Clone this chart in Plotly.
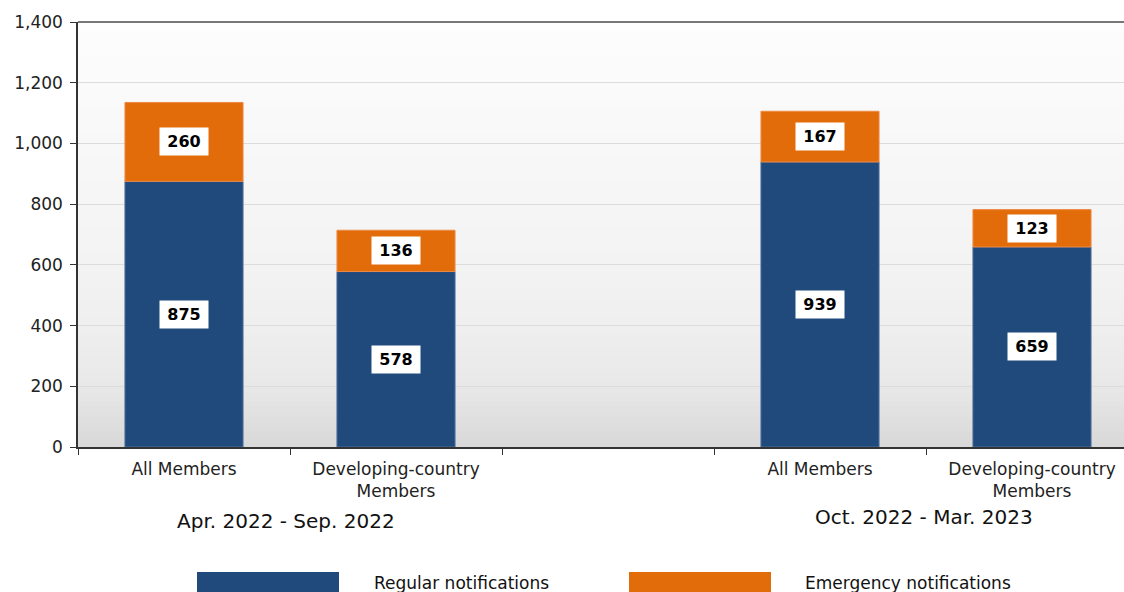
import numpy as np
import plotly.graph_objects as go

# data
categories = ["All Members", "Developing-country<br>Members"]
periods = ["Apr. 2022 - Sep. 2022", "Oct. 2022 - Mar. 2023"]
regular = [875, 578, 939, 659]
emergency = [260, 136, 167, 123]
x_pos = [0.5, 1.5, 3.5, 4.5]          # slot 2 left empty between periods
period_centers = [0.98, 3.99]
y_ticks = [0, 200, 400, 600, 800, 1000, 1200, 1400]

BLUE = "#214a7c"
ORANGE = "#e36c0a"
FONT = "DejaVu Sans"

fig = go.Figure()
fig.add_trace(go.Bar(x=x_pos, y=regular, name="Regular notifications",
                     marker=dict(color=BLUE, line=dict(color="#4d6e9c", width=1)),
                     width=0.557, hoverinfo="y"))
fig.add_trace(go.Bar(x=x_pos, y=emergency, base=regular, name="Emergency notifications",
                     marker=dict(color=ORANGE, line=dict(color="#ec8a45", width=1)),
                     width=0.557, hoverinfo="y"))

# white value boxes in the middle of each segment
annotations = []
for xp, r, e in zip(x_pos, regular, emergency):
    for val, mid in ((r, r / 2), (e, r + e / 2)):
        annotations.append(dict(x=xp, y=mid, xref="x", yref="y", text="<b>%d</b>" % val,
                                showarrow=False, bgcolor="white", borderpad=4,
                                width=40, font=dict(family=FONT, size=16, color="black")))

# period labels under the category labels (pixel rows of the reference)
for xc, lab, yy in zip(period_centers, periods, [521, 517]):
    annotations.append(dict(x=xc, xref="x", y=(447 - yy) / 425, yref="paper",
                            text=lab, showarrow=False, yanchor="middle",
                            font=dict(family=FONT, size=20, color="#111")))

# hand drawn legend with wide swatches
shapes = []
legend_items = [("Regular notifications", BLUE, 197, 372),
                ("Emergency notifications", ORANGE, 629, 803)]
for lab, col, x0, xt in legend_items:
    shapes.append(dict(type="rect", xref="paper", yref="paper",
                       x0=(x0 - 78) / 1046, x1=(x0 + 142 - 78) / 1046,
                       y0=(447 - 595) / 425, y1=(447 - 572) / 425,
                       fillcolor=col, line=dict(width=0), layer="above"))
    annotations.append(dict(x=(xt - 78) / 1046, xref="paper", y=(447 - 583) / 425, yref="paper",
                            text=lab, showarrow=False, xanchor="left", yanchor="middle",
                            font=dict(family=FONT, size=17, color="#111")))

# background gradient: near white at the top, grey towards the axis
stops_f = [0.0, 0.143, 0.286, 0.43, 0.714, 1.0]
stops_c = [216, 232, 239, 243, 248, 253]
n = 85
for i in range(n):
    f0, f1 = i / n, (i + 1) / n
    c = int(round(np.interp((f0 + f1) / 2, stops_f, stops_c)))
    shapes.append(dict(type="rect", xref="x domain", yref="y domain",
                       x0=0, x1=1, y0=f0, y1=f1 + 0.002,
                       fillcolor="rgb(%d,%d,%d)" % (c, c, c), line=dict(width=0), layer="below"))
# top border
shapes.append(dict(type="line", xref="x domain", yref="y domain", x0=0, x1=1, y0=1, y1=1,
                   line=dict(color="#777", width=2), layer="above"))

fig.update_layout(
    width=1124, height=592,
    margin=dict(l=78, r=0, t=22, b=145),
    paper_bgcolor="white", plot_bgcolor="white",
    barmode="overlay", showlegend=False,
    font=dict(family=FONT, size=17, color="#222"),
    annotations=annotations, shapes=shapes,
    xaxis=dict(range=[0, 1046 / 212], tickmode="array", tickvals=x_pos,
               ticktext=categories * 2, ticks="", showgrid=False, zeroline=False,
               showline=True, linecolor="#333", linewidth=1.5, automargin=False,
               ticklabelstandoff=6,
               tickfont=dict(family=FONT, size=17, color="#222"),
               minor=dict(tick0=0, dtick=1, ticks="outside", ticklen=6,
                          tickcolor="#333", showgrid=False)),
    yaxis=dict(range=[0, 1400], tickvals=y_ticks, tickformat=",d",
               ticks="outside", ticklen=6, tickcolor="#333", automargin=False,
               showline=True, linecolor="#333", linewidth=1.5, ticklabelstandoff=4,
               gridcolor="#dcdcdc", gridwidth=1, zeroline=False,
               tickfont=dict(family=FONT, size=17, color="#222")),
)

# page body has a default 8px margin; drop it so the figure fills the window
fig.write_html("out.html", config={"displayModeBar": False},
               post_script="document.body.style.margin='0';")
